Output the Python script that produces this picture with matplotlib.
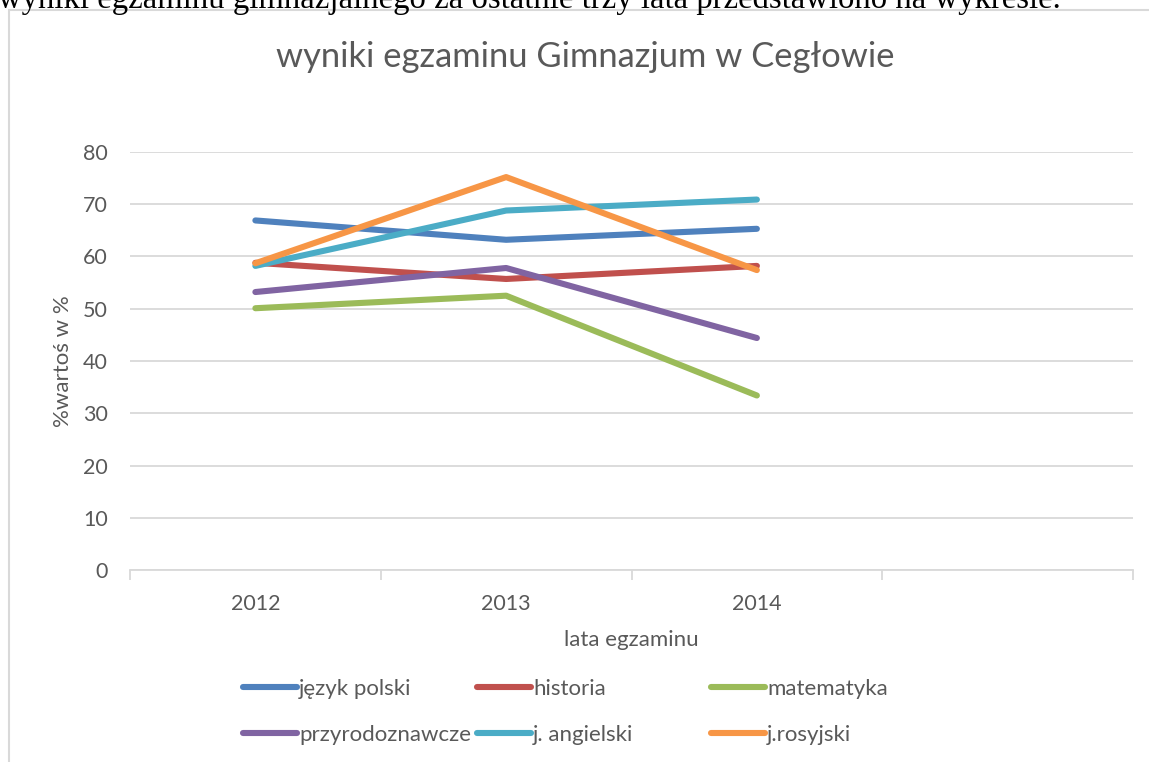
import matplotlib
matplotlib.use("Agg")
import matplotlib.pyplot as plt
from matplotlib.patches import Rectangle

years = ["2012", "2013", "2014", ""]
series_names = ["język polski", "historia", "matematyka", "przyrodoznawcze", "j. angielski", "j.rosyjski"]
jezyk_polski = [66.9, 63.2, 65.3]
historia = [58.8, 55.7, 58.2]
matematyka = [50.1, 52.5, 33.4]
przyrodoznawcze = [53.2, 57.8, 44.4]
j_angielski = [58.2, 68.8, 70.9]
j_rosyjski = [58.7, 75.2, 57.4]
colors = ["#4F81BD", "#C0504D", "#9BBB59", "#8064A2", "#4BACC6", "#F79646"]

W, H = 1149, 762
fig = plt.figure(figsize=(W / 100, H / 100), dpi=100)
FONT = "Lato"
TXT = "#595959"

def fx(px):
    return px / W

def fy(py):
    return 1 - py / H

# chart area border
fig.patches.append(Rectangle((fx(9), fy(1000)), fx(1200), fy(10) - fy(1000),
                             transform=fig.transFigure, fill=False,
                             edgecolor="#d9d9d9", linewidth=1.5))

# cut-off document text above chart
fig.text(fx(-2), fy(8), "wyniki egzaminu gimnazjalnego za ostatnie trzy lata przedstawiono na wykresie.",
         family="Liberation Serif", fontsize=23.6, ha="left", va="baseline", color="black")

ax = fig.add_axes([fx(130), fy(570), fx(1133) - fx(130), fy(152) - fy(570)])
data = [jezyk_polski, historia, matematyka, przyrodoznawcze, j_angielski, j_rosyjski]
x = list(range(len(jezyk_polski)))
handles = []
for name, vals, c in zip(series_names, data, colors):
    (h,) = ax.plot(x, vals, color=c, linewidth=4.4, solid_capstyle="round",
                   solid_joinstyle="round", label=name)
    handles.append(h)

ax.set_xlim(-0.5, len(years) - 0.5)
ax.set_ylim(0, 80)
ax.set_yticks(range(0, 81, 10))
ax.set_xticks(range(len(years)))
ax.set_xticklabels(years)
ax.set_xticks([i - 0.5 for i in range(len(years) + 1)], minor=True)
ax.grid(axis="y", color="#d9d9d9", linewidth=1.3)
ax.set_axisbelow(True)
for s in ["top", "right", "left"]:
    ax.spines[s].set_visible(False)
ax.spines["bottom"].set_color("#d9d9d9")
ax.spines["bottom"].set_linewidth(1.3)
ax.tick_params(axis="y", length=0, pad=16, labelsize=15.5, labelcolor=TXT)
ax.tick_params(axis="x", which="major", length=0, pad=17, labelsize=15.5, labelcolor=TXT)
ax.tick_params(axis="x", which="minor", length=7, width=1.3, color="#d9d9d9")
for lab in ax.get_xticklabels() + ax.get_yticklabels():
    lab.set_family(FONT)

ax.set_xlabel("lata egzaminu", fontsize=16, color=TXT, family=FONT, labelpad=12)
ax.set_ylabel("%wartoś w %", fontsize=16, color=TXT, family=FONT, labelpad=7)
fig.text(fx(585), fy(57), "wyniki egzaminu Gimnazjum w Cegłowie", fontsize=24.8,
         color=TXT, family=FONT, ha="center", va="center")

# legend: three columns, two rows
col_x = [243, 477, 711]
for ci in range(3):
    hs = [handles[ci], handles[ci + 3]]
    leg = fig.legend(hs, [h.get_label() for h in hs], loc="upper left",
                     bbox_to_anchor=(fx(col_x[ci]), fy(679)), frameon=False,
                     handlelength=2.45, handletextpad=0.08, labelspacing=1.18,
                     borderaxespad=0, borderpad=0,
                     prop={"family": FONT, "size": 16})
    for t in leg.get_texts():
        t.set_color(TXT)

fig.savefig("out.png", dpi=100)
